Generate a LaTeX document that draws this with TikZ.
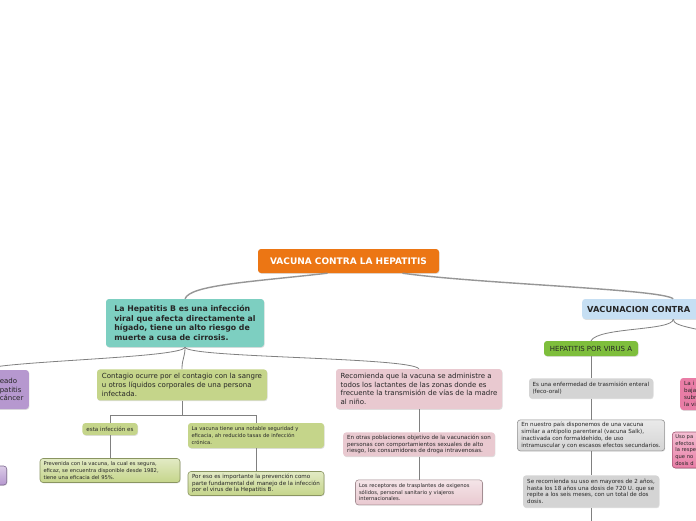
\documentclass[tikz,border=0pt]{standalone}
\usepackage{fontspec}
\setmainfont{DejaVu Sans}
\usetikzlibrary{positioning, shadows}

\definecolor{ttlorange}{RGB}{236,118,20}
\definecolor{tealbox}{RGB}{125,207,193}
\definecolor{lilac}{RGB}{182,152,207}
\definecolor{olivebox}{RGB}{197,213,138}
\definecolor{rosebox}{RGB}{233,201,208}
\definecolor{skybox}{RGB}{198,223,243}
\definecolor{leafgreen}{RGB}{126,190,60}
\definecolor{greybox}{RGB}{212,212,212}
\definecolor{magbox}{RGB}{233,125,166}
\definecolor{linkgrey}{RGB}{150,150,150}

\begin{document}
\begin{tikzpicture}[x=1pt, y=1pt,
  node distance=23pt,
  topic/.style={rounded corners=3pt, align=left, inner xsep=4pt, inner ysep=2pt, text=black!85,
                drop shadow={opacity=0.25, shadow xshift=0.6pt, shadow yshift=-0.8pt}},
  rootbox/.style={topic, fill=ttlorange, text=white, align=center,
                  font=\fontsize{9}{11}\selectfont\bfseries, minimum width=181pt, minimum height=24pt},
  mainbox/.style={topic, font=\fontsize{7.8}{9.4}\selectfont\bfseries},
  subbox/.style={topic, font=\fontsize{7}{8.6}\selectfont},
  notebox/.style={topic, font=\fontsize{5.6}{6.8}\selectfont},
  smallnote/.style={font=\fontsize{5.2}{6.6}\selectfont},
  boxed/.style={notebox, draw=#1!70!black, line width=0.6pt, top color=#1!50!white, bottom color=#1},
  trunk/.style={draw=linkgrey, line width=1.4pt},
  edgebox/.style={draw=black!50, line width=0.8pt},
]

% Page
\fill[white] (0,0) rectangle (696,-520);
\useasboundingbox (0,0) rectangle (696,-520);

% Central topic
\node[rootbox] (vacuna) at (348.5,-261) {VACUNA CONTRA LA HEPATITIS};

% Hepatitis B branch
\node[mainbox, fill=tealbox, minimum width=158pt, minimum height=48pt] (hepb) at (185,-323)
  {La Hepatitis B es una infección\\viral que afecta directamente al\\hígado, tiene un alto riesgo de\\muerte a cusa de cirrosis.};
\node[subbox, fill=lilac, anchor=east, text width=25pt, minimum height=39pt] (cancer) at (29,-389.5)
  {eado\\patitis\\cáncer};
\node[boxed=lilac, anchor=east, minimum width=37pt, minimum height=19pt] (lilac2) at (7,-475.5) {};
\node[subbox, fill=olivebox, minimum width=170pt, minimum height=31pt, below=22pt of hepb, xshift=-3pt] (contagio)
  {Contagio ocurre por el contagio con la sangre\\u otros líquidos corporales de una persona\\infectada.};
\node[notebox, fill=olivebox, minimum width=54pt, minimum height=12pt] (esta) at (110,-429) {esta infección es};
\node[notebox, smallnote, fill=olivebox, text width=129pt, inner xsep=3.5pt, minimum height=25pt] (segura) at (256,-435.5)
  {La vacuna tiene una notable seguridad y\\eficacia, ah reducido tasas de infección\\crónica.};
\node[boxed=olivebox, smallnote, text width=133pt, inner xsep=3.5pt, minimum height=24pt, below=of esta] (prevenida)
  {Prevenida con la vacuna, la cual es segura,\\eficaz, se encuentra disponible desde 1982,\\tiene una eficacia del 95\%.};
\node[boxed=olivebox, minimum width=136pt, minimum height=24pt, below=of segura] (poreso)
  {Por eso es importante la prevención como\\parte fundamental del manejo de la infección\\por el virus de la Hepatitis B.};

% Vaccination targets
\node[subbox, fill=rosebox, minimum width=166pt, minimum height=40pt] (lactantes) at (419,-389)
  {Recomienda que la vacuna se administre a\\todos los lactantes de las zonas donde es\\frecuente la transmisión de vías de la madre\\al niño.};
\node[notebox, fill=rosebox, minimum width=151pt, minimum height=24pt, below=of lactantes] (riesgo)
  {En otras poblaciones objetivo de la vacunación son\\personas con comportamientos sexuales de alto\\riesgo, los consumidores de droga intravenosas.};
\node[boxed=rosebox, smallnote, text width=120pt, inner xsep=3.5pt, minimum height=25pt, below=of riesgo] (receptores)
  {Los receptores de trasplantes de oxigenos\\sólidos, personal sanitario y viajeros\\internacionales.};

% Vacunacion branch
\node[mainbox, fill=skybox, anchor=west, inner xsep=5pt, minimum width=182pt, minimum height=20pt, text width=172pt,
      font=\fontsize{8.3}{10}\selectfont\bfseries] (vacunacion) at (582,-309) {VACUNACION CONTRA};
\node[subbox, fill=leafgreen, minimum width=94pt, minimum height=15pt] (hepa) at (591,-348.5) {HEPATITIS POR VIRUS A};
\node[notebox, fill=greybox, text width=117pt, inner xsep=3.5pt, minimum height=20pt, below=22pt of hepa] (enteral)
  {Es una enfermedad de trasmisión enteral\\(feco-oral)};
\node[boxed=greybox, minimum width=144pt, minimum height=31pt, below=21pt of enteral] (salk)
  {En nuestro país disponemos de una vacuna\\similar a antipolio parenteral (vacuna Salk),\\inactivada con formaldehído, de uso\\intramuscular y con escasos efectos secundarios.};
\node[notebox, fill=greybox, minimum width=136pt, minimum height=32pt, below=24pt of salk] (dosis)
  {Se recomienda su uso en mayores de 2 años,\\hasta los 18 años una dosis de 720 U. que se\\repite a los seis meses, con un total de dos\\dosis.};
\node[notebox, fill=magbox, anchor=west, text width=40pt, minimum height=32pt] (magenta1) at (680,-394)
  {La i\\baja\\subr\\la vi};
\node[boxed=magbox, smallnote, anchor=west, inner xsep=3pt, text width=40pt, minimum height=36pt] (magenta2) at (672,-450)
  {Uso pa\\efectos\\la respe\\que no\\dosis d};

\coordinate (offright) at (740,-341);
\coordinate (offdown) at (591,-540);

% Main branches
\draw[trunk] ([xshift=-21pt]vacuna.south) .. controls (250,-282) and (190,-285) .. (hepb.north);
\draw[trunk] ([xshift=54pt]vacuna.south) .. controls (480,-284) and (662,-289) .. (vacunacion.north);

% Hepatitis B links
\draw[edgebox] (hepb.south) .. controls (183,-358) and (0,-361) .. ([xshift=-30pt]cancer.north);
\draw[edgebox] (hepb.south) .. controls (185,-358) and (182,-358) .. (contagio.north);
\draw[edgebox] (hepb.south) .. controls (187,-358) and (410,-357) .. (lactantes.north);
\draw[edgebox] (contagio.south) -- ++(0,-15) coordinate (fork) -| (esta.north);
\draw[edgebox] (fork) -| (segura.north);
\draw[edgebox] (esta) -- (prevenida);
\draw[edgebox] (segura) -- (poreso);
\draw[edgebox] (lactantes) -- (riesgo);
\draw[edgebox] (riesgo) -- (receptores);

% Vacunacion links
\draw[edgebox] (vacunacion.south) .. controls (673,-331) and (598,-327) .. (hepa.north);
\draw[edgebox] (vacunacion.south) .. controls (673,-328) and (705,-328) .. (offright);
\draw[edgebox] (hepa) -- (enteral);
\draw[edgebox] (enteral) -- (salk);
\draw[edgebox] (salk) -- (dosis);
\draw[edgebox] (dosis) -- (offdown);

\end{tikzpicture}
\end{document}
